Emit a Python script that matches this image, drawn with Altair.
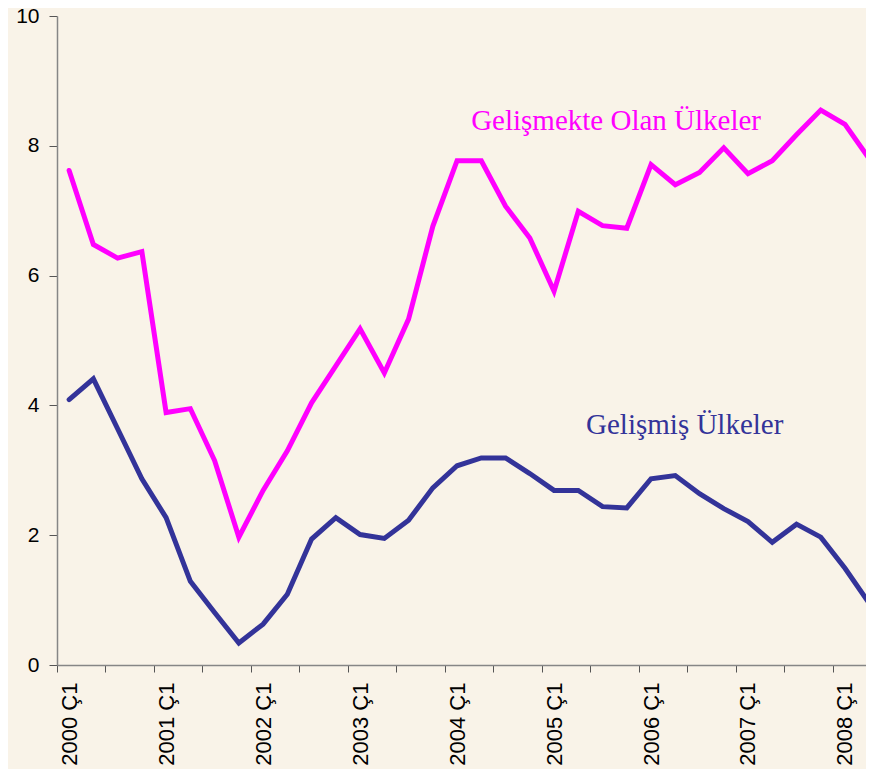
import altair as alt
import pandas as pd

# ---- data ----
years = list(range(2000, 2009))
quarters = [f"{y} Ç{q}" for y in years for q in (1, 2, 3, 4)][:34]

developing = [7.62, 6.48, 6.27, 6.37, 3.89, 3.95, 3.15, 1.97, 2.69, 3.30,
              4.04, 4.61, 5.18, 4.50, 5.33, 6.76, 7.77, 7.77, 7.07, 6.58,
              5.76, 6.99, 6.77, 6.73, 7.71, 7.40, 7.59, 7.97, 7.57, 7.77,
              8.17, 8.55, 8.33, 7.80]
advanced = [4.09, 4.41, 3.64, 2.87, 2.27, 1.29, 0.81, 0.34, 0.63, 1.09,
            1.94, 2.27, 2.01, 1.95, 2.23, 2.73, 3.07, 3.19, 3.19, 2.95,
            2.69, 2.69, 2.44, 2.42, 2.87, 2.92, 2.64, 2.41, 2.21, 1.89,
            2.17, 1.97, 1.49, 0.95]

series_names = ["Gelişmekte Olan Ülkeler", "Gelişmiş Ülkeler"]
series_colors = ["#FF00FF", "#333399"]
label_pos_t = [16.58, 21.32]
label_pos_v = [8.25, 3.56]
y_ticks = [0, 2, 4, 6, 8, 10]

rows = []
for i, q in enumerate(quarters):
    rows.append({"t": i, "q": q, "v": developing[i], "s": series_names[0]})
    rows.append({"t": i, "q": q, "v": advanced[i], "s": series_names[1]})
df = pd.DataFrame(rows)
ann = pd.DataFrame({"t": label_pos_t, "v": label_pos_v, "s": series_names})

# ticks sit between quarters; labels shown only for first quarters
boundaries = [k - 0.5 for k in range(len(quarters) - 1)]
lab_arr = ",".join("'" + (q if q.endswith("Ç1") else "") + "'" for q in quarters)
label_expr = f"[{lab_arr}][round(datum.value + 0.5)]"

x_scale = alt.Scale(domain=[-0.5, 32.866], nice=False, zero=False)
y_scale = alt.Scale(domain=[0, 10], nice=False)
color_scale = alt.Scale(domain=series_names, range=series_colors)

x_axis = alt.Axis(
    values=boundaries, labelExpr=label_expr, labelAngle=-90, labelOffset=12.1,
    labelFont="Liberation Sans", labelFontSize=22, labelColor="#000000",
    labelPadding=10, tickSize=7, tickColor="#555555", domainColor="#868686",
    domainWidth=1.5, grid=False, title=None, labelOverlap=False, labelFlush=False,
    labelBound=False,
)
y_axis = alt.Axis(
    values=y_ticks, format="d", labelFont="Liberation Sans", labelFontSize=21,
    labelColor="#000000", labelPadding=10, tickSize=8, tickColor="#555555",
    domainColor="#868686", domainWidth=1.5, grid=False, title=None,
)

lines = alt.Chart(df).mark_line(strokeWidth=5, strokeCap="round").encode(
    x=alt.X("t:Q", scale=x_scale, axis=x_axis),
    y=alt.Y("v:Q", scale=y_scale, axis=y_axis),
    color=alt.Color("s:N", scale=color_scale, legend=None),
)

texts = alt.Chart(ann).mark_text(
    align="left", baseline="alphabetic", font="Liberation Serif", fontSize=29
).encode(
    x=alt.X("t:Q", scale=x_scale),
    y=alt.Y("v:Q", scale=y_scale),
    text="s:N",
    color=alt.Color("s:N", scale=color_scale, legend=None),
)

chart = alt.layer(lines, texts).properties(
    width=809, height=649,
    autosize=alt.AutoSizeParams(type="none"),
    padding={"left": 49, "top": 8, "right": 0, "bottom": 104},
    background="#F9F3E8",
).configure_view(stroke=None)

chart.save("out.html", embed_options={"renderer": "svg", "actions": False})
